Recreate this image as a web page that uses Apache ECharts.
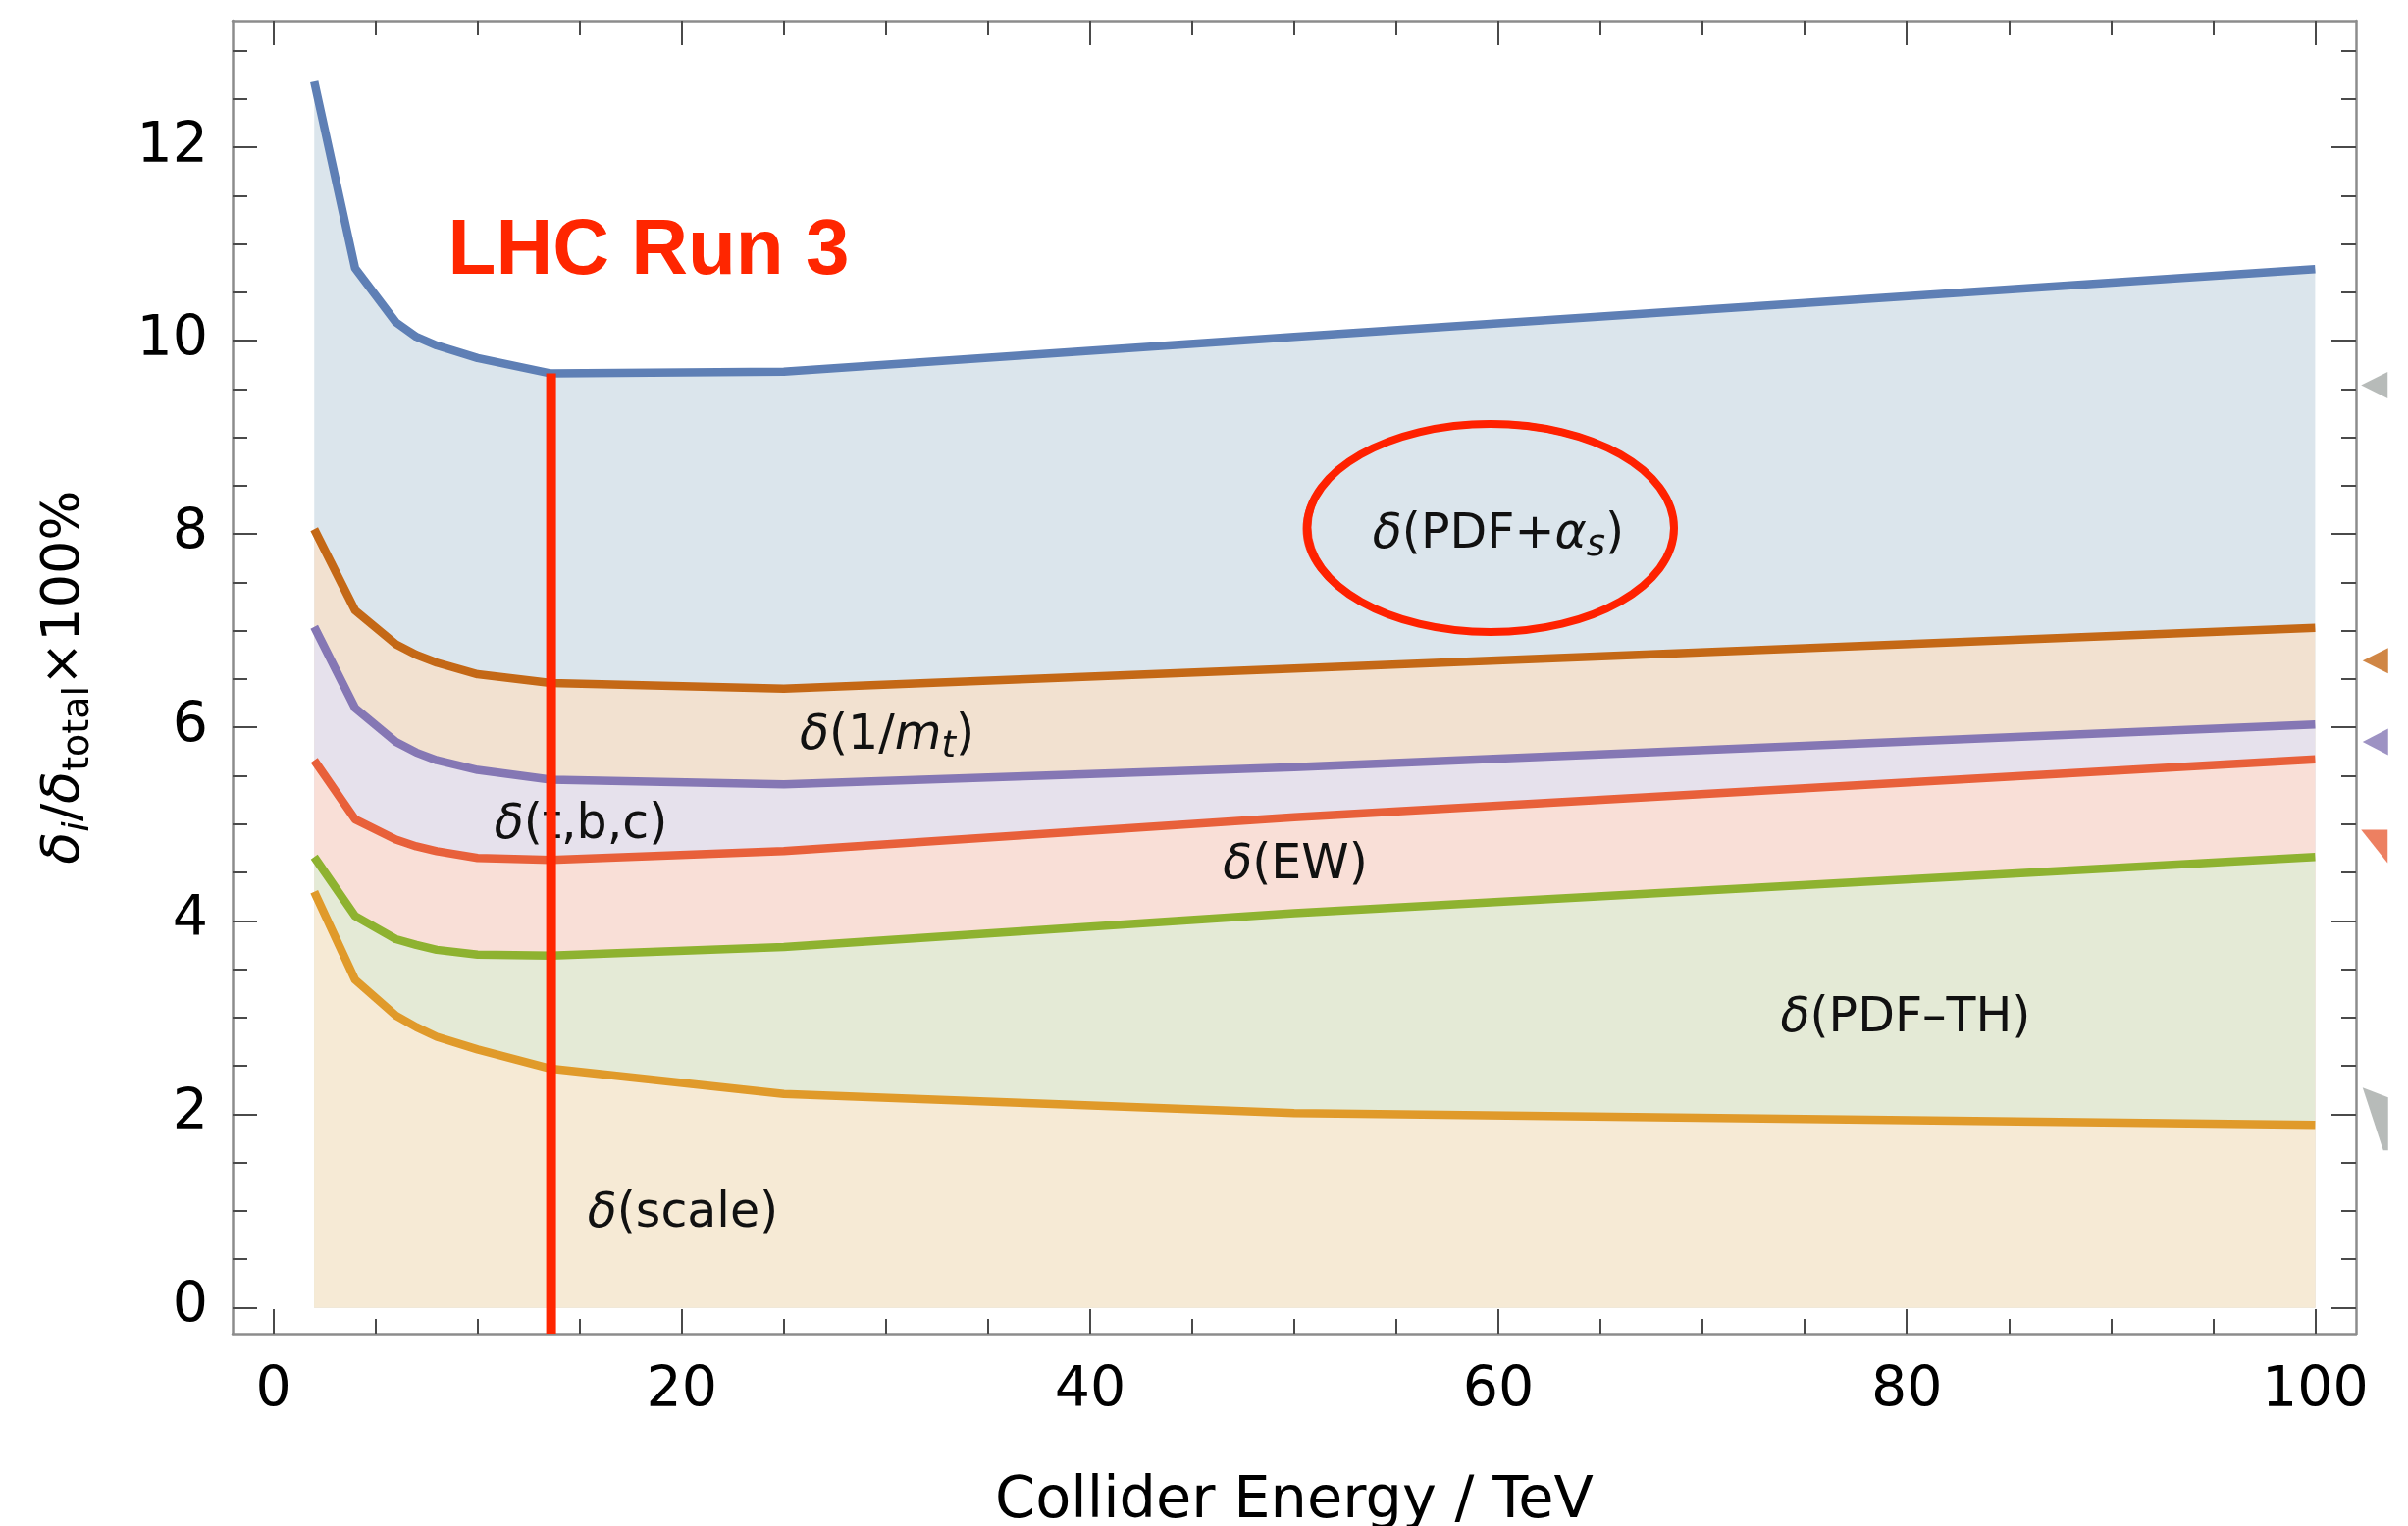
<!DOCTYPE html>
<html>
<head>
<meta charset="utf-8">
<script src="https://cdn.jsdelivr.net/npm/echarts@6/dist/echarts.min.js"></script>
<style>
html,body{margin:0;padding:0;background:#fff;}
#chart{width:2454px;height:1555px;}
</style>
</head>
<body>
<div id="chart"></div>
<script>
// ---- data ----
const energies   = [2, 4, 6, 7, 8, 10, 13.6, 25, 50, 100];
const pdfAlphaS  = [12.68, 10.75, 10.19, 10.04, 9.95, 9.82, 9.66, 9.68, 10.04, 10.74];
const invMt      = [8.05, 7.21, 6.86, 6.75, 6.67, 6.55, 6.46, 6.40, 6.61, 7.03];
const tbc        = [7.04, 6.20, 5.85, 5.74, 5.66, 5.56, 5.46, 5.41, 5.59, 6.03];
const ew         = [5.66, 5.05, 4.84, 4.77, 4.72, 4.65, 4.63, 4.72, 5.07, 5.67];
const pdfTh      = [4.66, 4.05, 3.81, 3.75, 3.70, 3.65, 3.64, 3.73, 4.08, 4.66];
const scaleUnc   = [4.30, 3.39, 3.02, 2.90, 2.80, 2.67, 2.47, 2.21, 2.01, 1.89];
const lhcRun3    = 13.6;

const xMajorTicks = [0, 20, 40, 60, 80, 100];
const xMinorTicks = [5, 10, 15, 25, 30, 35, 45, 50, 55, 65, 70, 75, 85, 90, 95];
const yMajorTicks = [0, 2, 4, 6, 8, 10, 12];
const yMinorTicks = [0.5, 1, 1.5, 2.5, 3, 3.5, 4.5, 5, 5.5, 6.5, 7, 7.5, 8.5, 9, 9.5, 10.5, 11, 11.5, 12.5, 13];

const seriesNames = ['δ(PDF+αs)', 'δ(1/mt)', 'δ(t,b,c)', 'δ(EW)', 'δ(PDF–TH)', 'δ(scale)'];
const bandLabels = [
  '{d|δ}(PDF+{d|α}{ds|s})',
  '{d|δ}(1/{d|m}{ds|t})',
  '{d|δ}(t,b,c)',
  '{d|δ}(EW)',
  '{d|δ}(PDF–TH)',
  '{d|δ}(scale)'
];
const runLabel = 'LHC Run 3';
const xAxisTitle = 'Collider Energy / TeV';
const yAxisTitle = '{d|δ}{ds|i}/{d|δ}{s|total}×100%';

// side markers outside the frame (x, y)
const sideMarkers = [[102.9, 9.54], [102.95, 6.69], [102.95, 5.85], [102.9, 4.77], [102.95, 1.95]];

// ---- styling ----
const X_MIN = -2, X_MAX = 102, Y_MIN = -0.27, Y_MAX = 13.31;
const FONT = '"DejaVu Sans", "Noto Sans", sans-serif';
const FRAME = '#8c8c8c', TICK = '#4a4a4a';
const lineColors = ['#5e7fb5', '#c46816', '#8577b4', '#e8603a', '#8eb230', '#e09a2a'];
const fillColors = ['#dbe5ec', '#f2e1d0', '#e6e1ec', '#f9dfd7', '#e4ead6', '#f6ead5'];
const valueSets = [pdfAlphaS, invMt, tbc, ew, pdfTh, scaleUnc];
const markerColors = ['#a5aaa7', '#c46816', '#8577b4', '#e8603a', '#a5aaa7'];
const markerSymbols = [
  'path://M0,5 L10,0 L10,10 Z',
  'path://M0,5 L10,0 L10,10 Z',
  'path://M0,5 L10,0 L10,10 Z',
  'path://M0,0 L10,0 L10,7 Z',
  'path://M0,0 L26,10 L26,64 L21,64 Z'
];
const markerSizes = [[27, 27], [26, 26], [26, 27], [27, 34], [26, 64]];

function axis(kind, position, ticks, len, opts) {
  const a = {
    type: 'value', position: position,
    min: kind === 'x' ? X_MIN : Y_MIN,
    max: kind === 'x' ? X_MAX : Y_MAX,
    splitLine: {show: false},
    axisLine: {show: !!opts.line, onZero: false, lineStyle: {color: FRAME, width: 2.5}},
    axisTick: {show: true, inside: true, length: len, customValues: ticks, lineStyle: {color: TICK, width: 2}},
    axisLabel: {show: false}
  };
  if (opts.labels) {
    a.axisLabel = {show: true, customValues: ticks, margin: kind === 'x' ? 31 : 25,
      fontFamily: FONT, fontSize: 57, color: '#000'};
  }
  return Object.assign(a, opts.extra || {});
}

const richBase = {
  d: {fontFamily: FONT, fontSize: 49, fontStyle: 'italic', lineHeight: 60, color: '#111'},
  s: {fontFamily: FONT, fontSize: 37, lineHeight: 32, verticalAlign: 'bottom', color: '#111'},
  ds: {fontFamily: FONT, fontSize: 37, fontStyle: 'italic', lineHeight: 32, verticalAlign: 'bottom', color: '#111'}
};

const labelPos = [[1527, 545], [904, 750], [592, 841], [1320, 882], [1942, 1038], [696, 1237]];

const chart = echarts.init(document.getElementById('chart'), null, {renderer: 'canvas'});

const series = valueSets.map((vals, i) => ({
  name: seriesNames[i],
  type: 'line',
  data: energies.map((x, j) => [x, vals[j]]),
  symbol: 'none',
  smooth: false,
  lineStyle: {color: lineColors[i], width: 8.5, join: 'round', cap: 'butt'},
  areaStyle: {color: fillColors[i], opacity: 1, origin: 'auto'},
  z: 2,
  silent: true
}));

series.push({
  name: runLabel,
  type: 'line',
  data: [[lhcRun3, Y_MIN], [lhcRun3, pdfAlphaS[energies.indexOf(lhcRun3)]]],
  symbol: 'none',
  lineStyle: {color: '#ff2600', width: 10, cap: 'butt'},
  z: 10,
  silent: true
});

series.push({
  type: 'scatter',
  data: sideMarkers.map((p, i) => ({
    value: p, symbol: markerSymbols[i], symbolSize: markerSizes[i],
    itemStyle: {color: markerColors[i]}
  })),
  clip: false,
  z: 10,
  silent: true
});

const graphics = bandLabels.map((t, i) => ({
  type: 'text', x: labelPos[i][0], y: labelPos[i][1], z: 5,
  style: {
    text: t, fill: '#111', font: '49px ' + FONT, lineHeight: 60,
    align: 'center', verticalAlign: 'middle',
    rich: {
      d: richBase.d, s: richBase.s, ds: richBase.ds
    }
  }
}));
graphics.push({
  type: 'text', x: 661, y: 257, z: 20,
  style: {text: runLabel, fill: '#ff2600', font: 'bold 80px "Liberation Sans", Arial, sans-serif',
    align: 'center', verticalAlign: 'middle'}
});
// hand-drawn looking ellipse around δ(PDF+αs)
const ellipseStrokes = [
  {cx: 1519, cy: 538, rx: 187, ry: 106, w: 8, o: 1},
  {cx: 1518, cy: 539, rx: 189, ry: 105, w: 3, o: 0.8},
  {cx: 1520, cy: 537, rx: 185, ry: 107, w: 3, o: 0.8}
];
ellipseStrokes.forEach(e => graphics.push({
  type: 'ellipse', z: 20,
  shape: {cx: e.cx, cy: e.cy, rx: e.rx, ry: e.ry},
  style: {fill: 'none', stroke: '#ff2200', lineWidth: e.w, opacity: e.o}
}));

const option = {
  backgroundColor: '#ffffff',
  animation: false,
  grid: {left: 237, right: 53, top: 21, bottom: 196, containLabel: false, outerBoundsMode: 'none'},
  xAxis: [
    axis('x', 'bottom', xMajorTicks, 25, {line: true, labels: true, extra: {
      name: xAxisTitle, nameLocation: 'middle', nameGap: 142,
      nameTextStyle: {fontFamily: FONT, fontSize: 59, color: '#000'}
    }}),
    axis('x', 'bottom', xMinorTicks, 15, {}),
    axis('x', 'top', xMajorTicks, 25, {line: true}),
    axis('x', 'top', xMinorTicks, 15, {})
  ],
  yAxis: [
    axis('y', 'left', yMajorTicks, 25, {line: true, labels: true, extra: {
      name: yAxisTitle, nameLocation: 'middle', nameGap: 138, nameRotate: 90,
      nameTextStyle: {
        fontFamily: FONT, fontSize: 54, color: '#000', lineHeight: 66,
        rich: {
          d: {fontFamily: FONT, fontSize: 54, fontStyle: 'italic', lineHeight: 66, color: '#000'},
          ds: {fontFamily: FONT, fontSize: 38, fontStyle: 'italic', lineHeight: 36, verticalAlign: 'bottom', color: '#000'},
          s: {fontFamily: FONT, fontSize: 38, lineHeight: 36, verticalAlign: 'bottom', color: '#000'}
        }
      }
    }}),
    axis('y', 'left', yMinorTicks, 15, {}),
    axis('y', 'right', yMajorTicks, 25, {line: true}),
    axis('y', 'right', yMinorTicks, 15, {})
  ],
  series: series,
  graphic: graphics
};
chart.setOption(option);
</script>
</body>
</html>
